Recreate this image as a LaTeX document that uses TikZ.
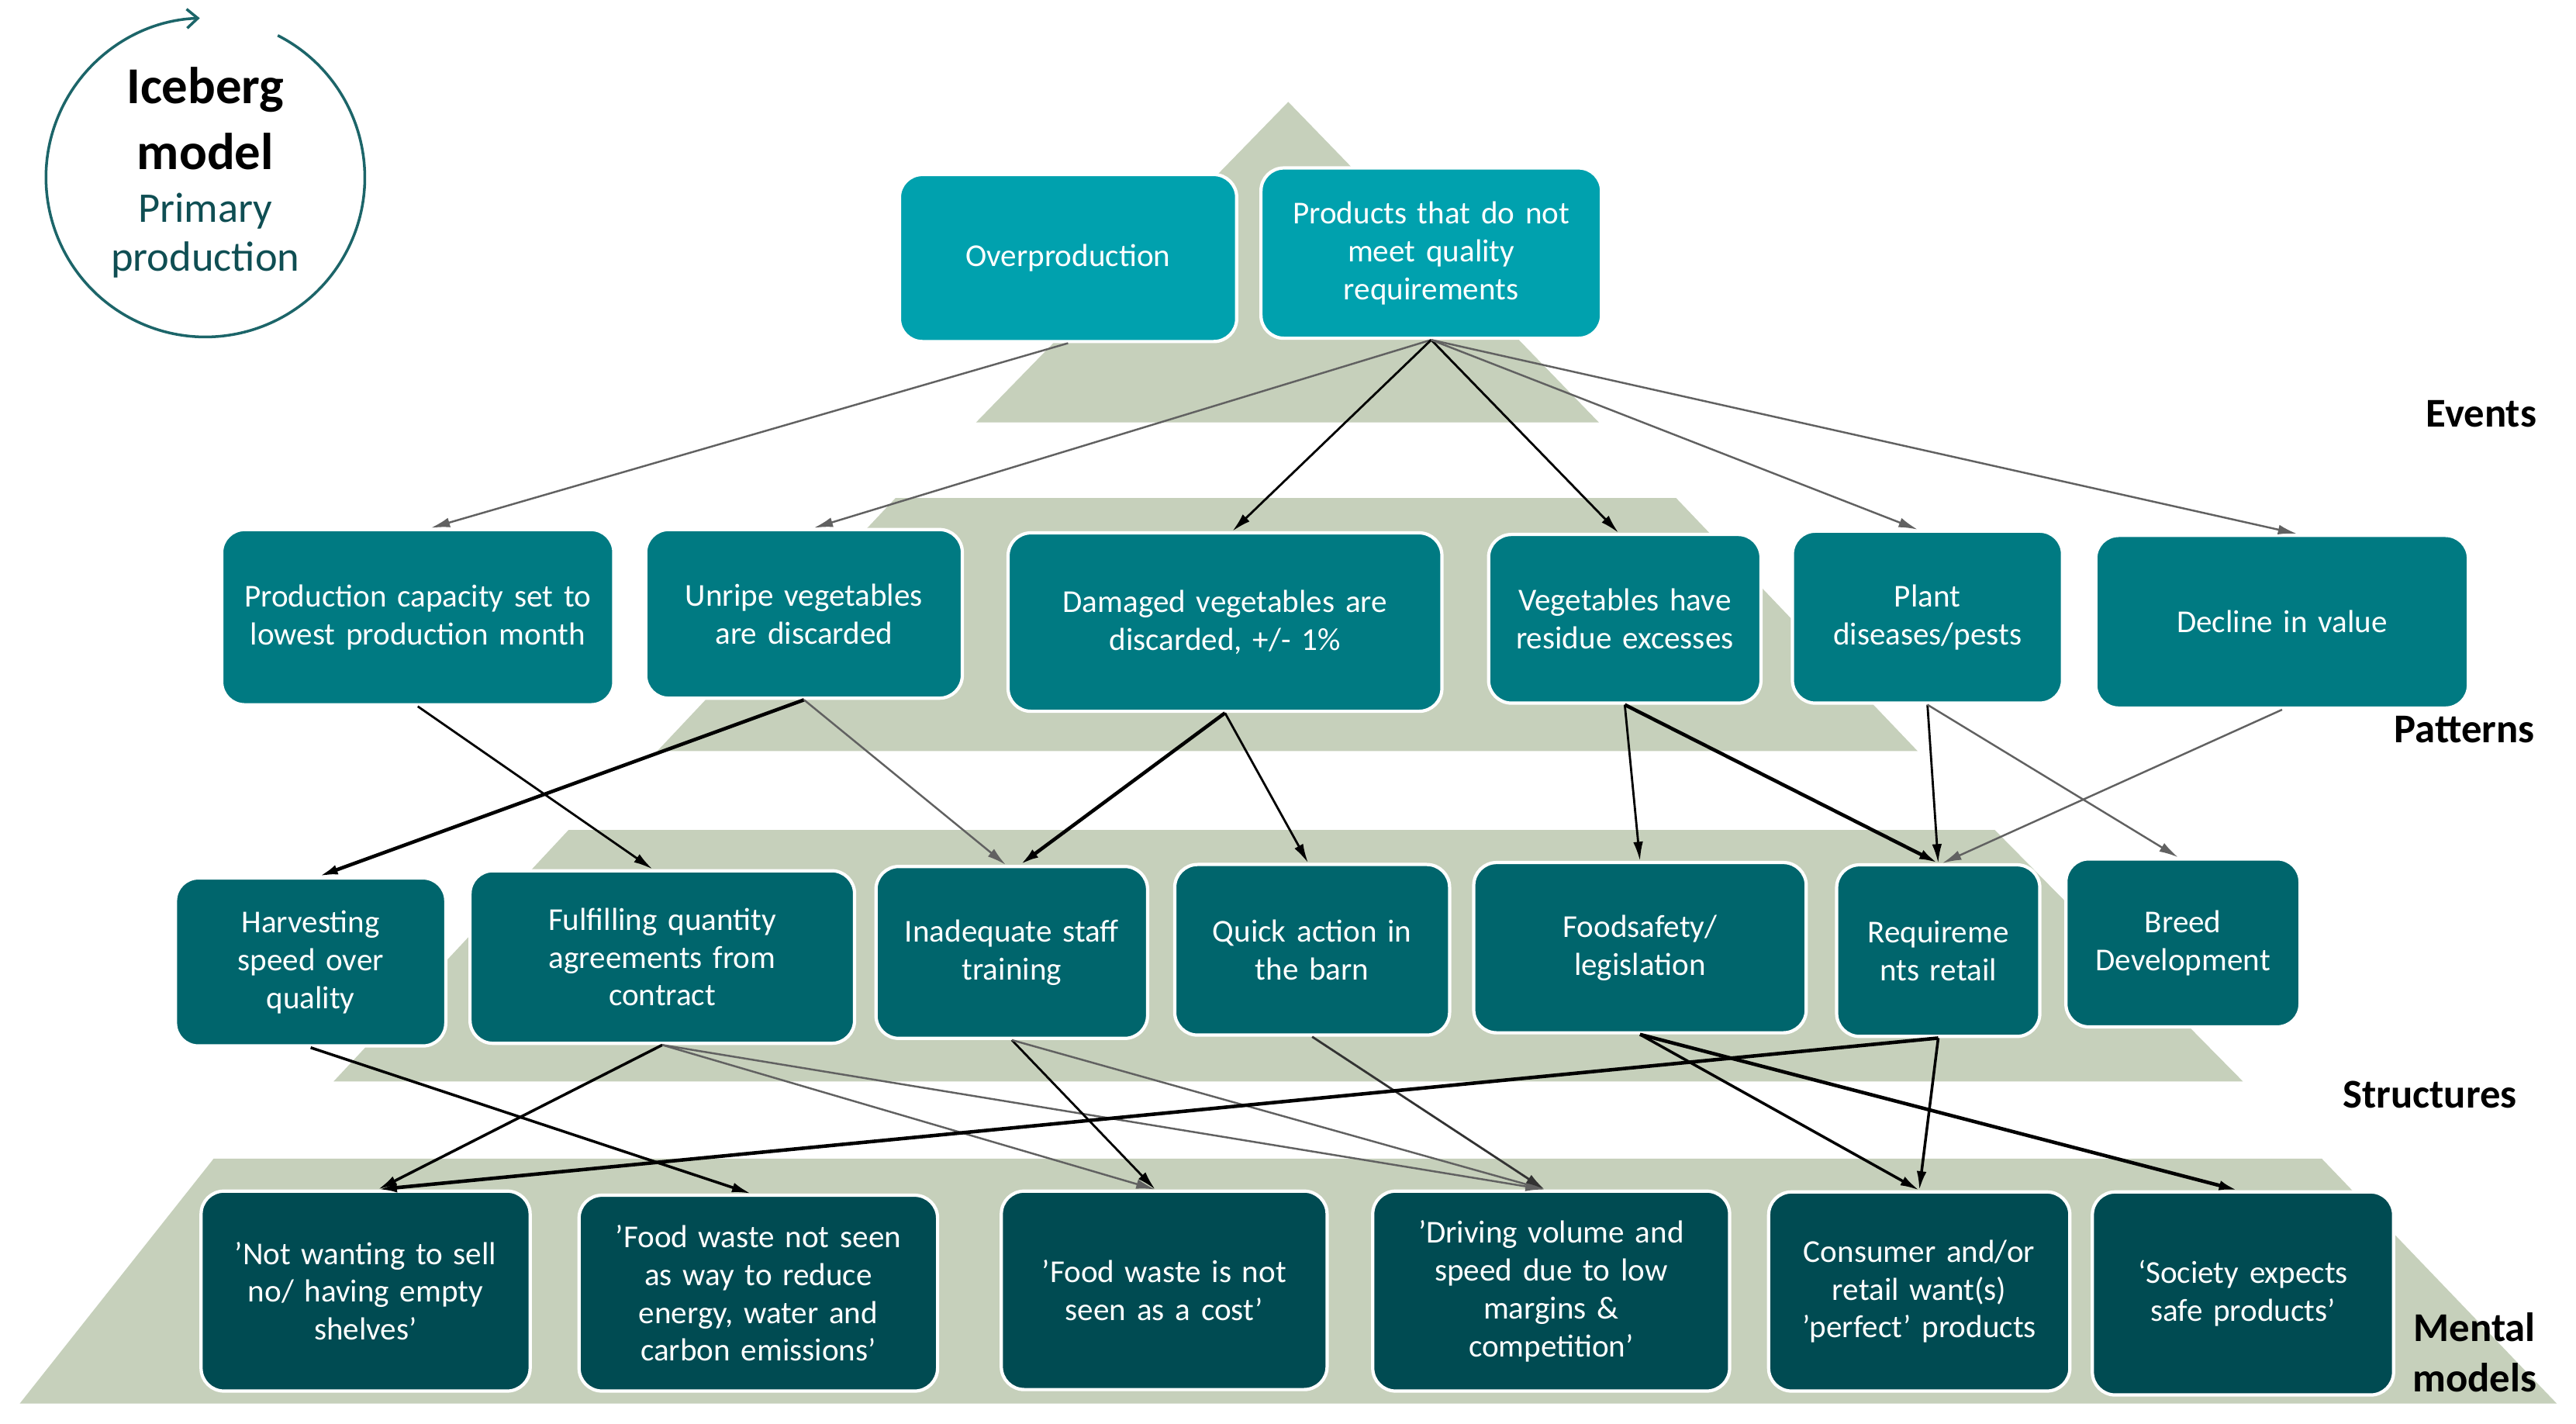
\documentclass[tikz,border=0pt]{standalone}
\usepackage{fontspec}
\setmainfont{Carlito}
\usetikzlibrary{arrows.meta}
\definecolor{band}{HTML}{C6D0BB}
\definecolor{evc}{HTML}{00A1AE}
\definecolor{pac}{HTML}{007A82}
\definecolor{stc}{HTML}{00656C}
\definecolor{mmc}{HTML}{004B52}
\definecolor{circc}{HTML}{1C6569}
\definecolor{circt}{HTML}{0F4E53}
\newcommand\mkbox[7]{%
 \pgfmathsetlengthmacro\bw{(#4-#2)*0.6008pt}%
 \pgfmathsetlengthmacro\bh{(#5-#3)*0.6008pt}%
 \pgfmathsetlengthmacro\tw{(#4-#2-10)*0.6008pt}%
 \node[box,#6,minimum width=\bw,minimum height=\bh,text width=\tw] (#1) at ({(#2+#4)/2},{(#3+#5)/2}) {#7};}
\begin{document}
\begin{tikzpicture}[x=0.02119cm,y=-0.02119cm,
  box/.style={rounded corners=8.4pt,draw=white,line width=1.2pt,inner sep=0pt,align=center,
    text=white,font=\fontsize{11.7}{13.9}\selectfont},
  ev/.style={fill=evc},
  pa/.style={fill=pac},
  st/.style={fill=stc},
  mm/.style={fill=mmc},
  ar/.style={-{Latex[length=7pt,width=3.6pt]}},
  gr/.style={ar,draw=black!62,line width=0.7pt},
  bk/.style={ar,draw=black,line width=0.8pt},
  tk/.style={ar,draw=black,line width=1.3pt},
  lvl/.style={font=\fontsize{15}{17}\selectfont\bfseries,anchor=base east,inner sep=0pt}]
\useasboundingbox (0,0) rectangle (1567.7,866.4);
% pyramid bands
\fill[band] (784,62) -- (973,257) -- (594,257) -- cycle;
\fill[band] (545,303) -- (1020,303) -- (1167,457) -- (400,457) -- cycle;
\fill[band] (346,505) -- (1214,505) -- (1365,658) -- (203,658) -- cycle;
\fill[band] (130,705) -- (1413,705) -- (1556,854) -- (12,854) -- cycle;
% circle
\draw[circc,line width=1pt,-{Straight Barb[length=4pt,width=7pt]}] (125,108) ++(-63:97) arc[start angle=-63,end angle=268,radius=97];
\node[anchor=base,inner sep=0pt,font=\fontsize{19}{21}\selectfont\bfseries] (t1) at (125,63) {Iceberg};
\node[anchor=base,inner sep=0pt,font=\fontsize{19}{21}\selectfont\bfseries] (t2) at (125,103) {model};
\node[anchor=base,inner sep=0pt,text=circt,font=\fontsize{15.5}{18}\selectfont] (t3) at (125,135) {Primary};
\node[anchor=base,inner sep=0pt,text=circt,font=\fontsize{15.5}{18}\selectfont] (t4) at (125,165) {production};
% level labels
\node[lvl] (l1) at (1544,260) {Events};
\node[lvl] (l2) at (1543,452) {Patterns};
\node[lvl] (l3) at (1532,674) {Structures};
\node[lvl,anchor=base] (l4) at (1506,816) {Mental};
\node[lvl,anchor=base] (l5) at (1506,847) {models};
% events
\mkbox{ovp}{547}{106}{753}{208}{ev}{Overproduction}
\mkbox{prd}{767}{102}{975}{206}{ev}{Products that do not\\meet quality\\requirements}
% patterns
\mkbox{pc}{134.5}{322}{374}{429}{pa}{Production capacity set to\\lowest production month}
\mkbox{unr}{392.6}{322}{586}{425}{pa}{Unripe vegetables\\are discarded}
\mkbox{dmg}{613}{324}{878}{433}{pa}{Damaged vegetables are\\discarded, +/- 1\%}
\mkbox{veg}{905.6}{325}{1072}{428}{pa}{Vegetables have\\residue excesses}
\mkbox{plt}{1090.5}{323}{1255.5}{428}{pa}{Plant\\diseases/pests}
\mkbox{dcl}{1275}{325.6}{1502.6}{431}{pa}{Decline in value}
% structures
\mkbox{hrv}{106.5}{534}{271.6}{636.6}{st}{Harvesting\\speed over\\quality}
\mkbox{ful}{285.6}{529.6}{520.5}{635}{st}{Fulfilling quantity\\agreements from\\contract}
\mkbox{ina}{532.8}{527}{698.7}{632}{st}{Inadequate staff\\training}
\mkbox{qck}{714.6}{525.8}{882.5}{630}{st}{Quick action in\\the barn}
\mkbox{fsl}{896.5}{524.6}{1099.6}{628.6}{st}{Foodsafety/\\legislation}
\mkbox{req}{1117.5}{526}{1241.6}{630.8}{st}{Requireme\\nts retail}
\mkbox{brd}{1257}{522.4}{1400}{625}{st}{Breed\\Development}
% mental models
\mkbox{nws}{122}{724.5}{323}{846.6}{mm}{'Not wanting to sell\\no/ having empty\\shelves'}
\mkbox{fwn}{352}{727}{571}{846.6}{mm}{'Food waste not seen\\as way to reduce\\energy, water and\\carbon emissions'}
\mkbox{fwc}{609}{724.5}{808}{845.7}{mm}{'Food waste is not\\seen as a cost'}
\mkbox{drv}{835}{724.5}{1053}{846.6}{mm}{'Driving volume and\\speed due to low\\margins \&\\competition'}
\mkbox{cns}{1076}{725}{1260}{846.6}{mm}{Consumer and/or\\retail want(s)\\'perfect' products}
\mkbox{soc}{1273}{725}{1457}{849}{mm}{`Society expects\\safe products'}
% events -> patterns
\draw[gr] (ovp.south) -- ([xshift=4.8pt]pc.north);
\draw[gr] (prd.south) -- ([xshift=3.6pt]unr.north);
\draw[bk] (prd.south) -- ([xshift=2.7pt]dmg.north);
\draw[bk] (prd.south) -- ([xshift=-2.3pt]veg.north);
\draw[gr] (prd.south) -- ([xshift=-3.6pt]plt.north);
\draw[gr] (prd.south) -- ([xshift=5.5pt]dcl.north);
% patterns -> structures
\draw[bk] (pc.south) -- ([xshift=-3.6pt]ful.north);
\draw[tk] (unr.south) -- ([xshift=3pt]hrv.north);
\draw[gr] (unr.south) -- ([xshift=-2.2pt]ina.north);
\draw[tk] (dmg.south) -- ([xshift=3pt]ina.north);
\draw[bk] (dmg.south) -- ([xshift=-1.5pt]qck.north);
\draw[bk] (veg.south) -- (fsl.north);
\draw[tk] (veg.south) -- (req.north);
\draw[bk] (plt.south) -- (req.north);
\draw[gr] (plt.south) -- ([xshift=-1.8pt]brd.north);
\draw[gr] (dcl.south) -- ([xshift=1.5pt]req.north);
% structures -> mental models
\draw[bk,line width=1pt] (hrv.south) -- ([xshift=-2.7pt]fwn.north);
\draw[bk,line width=1pt] (ful.south) -- ([xshift=4.5pt]nws.north);
\draw[gr] (ful.south) -- ([xshift=-3.3pt]fwc.north);
\draw[gr] (ful.south) -- ([xshift=-2.4pt]drv.north);
\draw[bk] (ina.south) -- ([xshift=-3.3pt]fwc.north);
\draw[gr] (ina.south) -- ([xshift=-2.4pt]drv.north);
\draw[bk,draw=black!80] (qck.south) -- ([xshift=-2.4pt]drv.north);
\draw[bk,line width=1pt] (fsl.south) -- (cns.north);
\draw[tk] (fsl.south) -- ([xshift=-1.8pt]soc.north);
\draw[tk] (req.south) -- ([xshift=4.5pt]nws.north);
\draw[bk,line width=1pt] (req.south) -- (cns.north);
\end{tikzpicture}
\end{document}
